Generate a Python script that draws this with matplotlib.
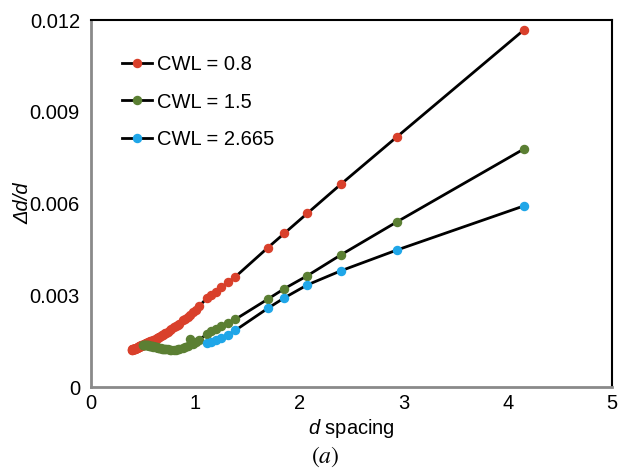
import matplotlib
matplotlib.use('Agg')
import matplotlib.pyplot as plt

plt.rcParams['font.family'] = ['Liberation Sans', 'DejaVu Sans']
plt.rcParams['mathtext.fontset'] = 'custom'
plt.rcParams['mathtext.rm'] = 'Liberation Sans'
plt.rcParams['mathtext.it'] = 'Liberation Sans:italic'

# CWL = 0.8
d_red = [0.390, 0.396, 0.398, 0.399, 0.401, 0.403, 0.405, 0.407, 0.411, 0.413,
         0.415, 0.417, 0.419, 0.421, 0.424, 0.428, 0.430, 0.435, 0.437, 0.440,
         0.442, 0.448, 0.450, 0.453, 0.456, 0.458, 0.461, 0.464, 0.470, 0.473,
         0.476, 0.479, 0.482, 0.486, 0.489, 0.496, 0.500, 0.503, 0.507, 0.511,
         0.515, 0.519, 0.527, 0.531, 0.540, 0.545, 0.550, 0.555, 0.565, 0.570,
         0.576, 0.581, 0.587, 0.593, 0.599, 0.612, 0.619, 0.626, 0.633, 0.640,
         0.648, 0.656, 0.673, 0.682, 0.692, 0.701, 0.712, 0.722, 0.734, 0.758,
         0.771, 0.799, 0.814, 0.830, 0.847, 0.885, 0.906, 0.928, 0.952, 0.978,
         1.007, 1.038, 1.109, 1.151, 1.198, 1.251, 1.312, 1.383, 1.694, 1.856,
         2.075, 2.396, 2.934, 4.150]
v_red = [0.00122, 0.00122, 0.00123, 0.00123, 0.00123, 0.00123, 0.00124, 0.00124, 0.00124, 0.00125,
         0.00125, 0.00125, 0.00125, 0.00126, 0.00126, 0.00127, 0.00127, 0.00127, 0.00128, 0.00128,
         0.00129, 0.00130, 0.00130, 0.00131, 0.00131, 0.00132, 0.00132, 0.00133, 0.00134, 0.00134,
         0.00135, 0.00135, 0.00136, 0.00136, 0.00137, 0.00138, 0.00138, 0.00139, 0.00139, 0.00140,
         0.00141, 0.00141, 0.00143, 0.00143, 0.00145, 0.00145, 0.00146, 0.00147, 0.00148, 0.00149,
         0.00150, 0.00150, 0.00151, 0.00152, 0.00153, 0.00155, 0.00157, 0.00158, 0.00160, 0.00161,
         0.00163, 0.00164, 0.00168, 0.00169, 0.00171, 0.00173, 0.00176, 0.00178, 0.00180, 0.00186,
         0.00189, 0.00196, 0.00199, 0.00203, 0.00207, 0.00218, 0.00224, 0.00230, 0.00237, 0.00244,
         0.00253, 0.00264, 0.00290, 0.00300, 0.00312, 0.00326, 0.00342, 0.00360, 0.00455, 0.00503,
         0.00568, 0.00663, 0.00818, 0.01167]

# CWL = 1.5
d_green = [0.500, 0.503, 0.507, 0.511, 0.515, 0.519, 0.527, 0.531, 0.540, 0.545,
           0.550, 0.555, 0.565, 0.570, 0.576, 0.581, 0.587, 0.593, 0.599, 0.612,
           0.619, 0.626, 0.633, 0.640, 0.648, 0.656, 0.673, 0.682, 0.692, 0.701,
           0.712, 0.722, 0.734, 0.758, 0.771, 0.799, 0.814, 0.830, 0.847, 0.885,
           0.906, 0.928, 0.952, 0.978, 1.007, 1.038, 1.109, 1.151, 1.198, 1.251,
           1.312, 1.383, 1.694, 1.856, 2.075, 2.396, 2.934, 4.150]
v_green = [0.00139, 0.00139, 0.00139, 0.00138, 0.00138, 0.00138, 0.00137, 0.00137, 0.00136, 0.00136,
           0.00136, 0.00135, 0.00135, 0.00134, 0.00134, 0.00133, 0.00133, 0.00133, 0.00132, 0.00131,
           0.00131, 0.00130, 0.00130, 0.00129, 0.00128, 0.00128, 0.00127, 0.00126, 0.00125, 0.00125,
           0.00124, 0.00123, 0.00123, 0.00122, 0.00122, 0.00122, 0.00122, 0.00123, 0.00124, 0.00127,
           0.00130, 0.00133, 0.00158, 0.00140, 0.00146, 0.00155, 0.00172, 0.00182, 0.00191, 0.00200,
           0.00210, 0.00221, 0.00287, 0.00322, 0.00364, 0.00432, 0.00540, 0.00778]

# CWL = 2.665
d_blue = [1.109, 1.151, 1.198, 1.251, 1.312, 1.383, 1.694, 1.856, 2.075, 2.396, 2.934, 4.150]
v_blue = [0.00143, 0.00148, 0.00153, 0.00159, 0.00170, 0.00185, 0.00257, 0.00292, 0.00334,
          0.00380, 0.00448, 0.00592]

xticks = [0, 1, 2, 3, 4, 5]
yticks = [0, 0.003, 0.006, 0.009, 0.012]
ytick_labels = ['0', '0.003', '0.006', '0.009', '0.012']

fig = plt.figure(figsize=(6.19, 4.68), dpi=100)
ax = fig.add_axes([0.147, 0.173, 0.842, 0.784])

ax.plot(d_red, v_red, color='black', lw=2, marker='o', ms=5.8,
        mfc='#d9402b', mec='#d9402b', label='CWL = 0.8')
ax.plot(d_green, v_green, color='black', lw=2, marker='o', ms=5.8,
        mfc='#5b7f33', mec='#5b7f33', label='CWL = 1.5')
ax.plot(d_blue, v_blue, color='black', lw=2, marker='o', ms=5.8,
        mfc='#1fa6e8', mec='#1fa6e8', label='CWL = 2.665')

ax.set_xlim(0, 5)
ax.set_ylim(0, 0.012)
ax.set_xticks(xticks)
ax.set_yticks(yticks)
ax.set_yticklabels(ytick_labels)
ax.tick_params(length=0, labelsize=14.5)
ax.tick_params(axis='y', pad=8)
ax.tick_params(axis='x', pad=5)

for s in ['left', 'bottom']:
    ax.spines[s].set_color('#8a8a8a')
    ax.spines[s].set_linewidth(2)
for s in ['top', 'right']:
    ax.spines[s].set_color('black')
    ax.spines[s].set_linewidth(1.5)

ax.set_xlabel(r'$d$ spacing', fontsize=14.5, labelpad=3)
ax.set_ylabel('Δd/d', fontsize=14.5, fontstyle='italic', labelpad=-2)

ax.legend(loc='upper left', bbox_to_anchor=(0.06, 0.905), frameon=False,
          fontsize=14.5, handlelength=1.5, handletextpad=0.2, labelspacing=0.92,
          borderpad=0, borderaxespad=0)

fig.text(0.525, 0.012, r'$(a)$', ha='center', fontsize=17, math_fontfamily='stix')

fig.savefig('out.png', dpi=100)
